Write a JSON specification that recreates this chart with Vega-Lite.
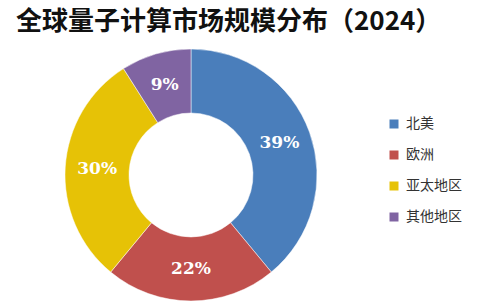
{
  "$schema": "https://vega.github.io/schema/vega-lite/v6.json",
  "width": 382,
  "height": 252,
  "autosize": "none",
  "padding": {"left": 0, "top": 49, "right": 98, "bottom": 7},
  "background": "white",
  "title": {
    "text": "全球量子计算市场规模分布（2024）",
    "anchor": "start",
    "dx": 16,
    "offset": 13,
    "font": "Noto Sans CJK SC",
    "fontSize": 26,
    "fontWeight": "bold",
    "color": "#111111"
  },
  "data": {
    "values": [
      {"region": "北美", "share": 39, "label": "39%", "order": 1},
      {"region": "欧洲", "share": 22, "label": "22%", "order": 2},
      {"region": "亚太地区", "share": 30, "label": "30%", "order": 3},
      {"region": "其他地区", "share": 9, "label": "9%", "order": 4}
    ]
  },
  "encoding": {
    "theta": {"field": "share", "type": "quantitative", "stack": true},
    "order": {"field": "order", "type": "quantitative"},
    "color": {
      "field": "region",
      "type": "nominal",
      "scale": {
        "domain": ["北美", "欧洲", "亚太地区", "其他地区"],
        "range": ["#4a7ebb", "#c0504d", "#e6c206", "#8064a2"]
      },
      "legend": {
        "title": null,
        "orient": "none",
        "legendX": 387,
        "legendY": 68,
        "symbolType": "square",
        "symbolSize": 81,
        "symbolStrokeWidth": 0,
        "symbolOpacity": 1,
        "labelFont": "Noto Sans CJK SC",
        "labelFontSize": 14,
        "labelColor": "#333333",
        "labelOffset": 5,
        "rowPadding": 17
      }
    }
  },
  "layer": [
    {
      "mark": {"type": "arc", "outerRadius": 126, "innerRadius": 62, "stroke": "white", "strokeWidth": 0.5}
    },
    {
      "mark": {
        "type": "text",
        "radius": 94,
        "font": "DejaVu Serif",
        "fontWeight": "bold",
        "fontSize": 17,
        "fill": "white",
        "align": "center",
        "baseline": "middle"
      },
      "encoding": {
        "text": {"field": "label"},
        "color": {"value": "white"}
      }
    }
  ],
  "config": {"view": {"stroke": null}}
}
